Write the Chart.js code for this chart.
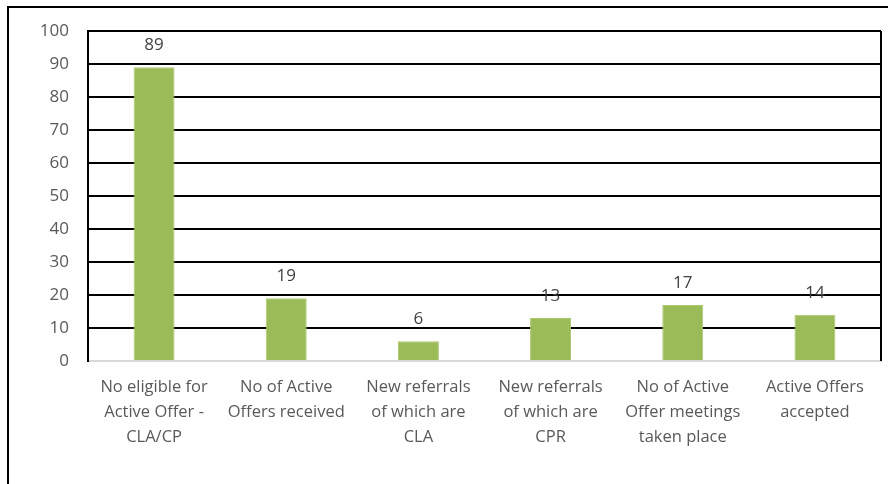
<!DOCTYPE html>
<html>
<head>
<meta charset="utf-8">
<script src="https://cdn.jsdelivr.net/npm/chart.js@4"></script>
<style>
  html, body { margin: 0; padding: 0; background: #fff; overflow: hidden; }
  #wrap { position: relative; width: 888px; height: 484px; }
  #frame { position: absolute; left: 7px; top: 6px; width: 900px; height: 500px; border: 2px solid #000; box-sizing: border-box; pointer-events: none; }
  canvas { position: absolute; left: 0; top: 0; }
</style>
</head>
<body>
<div id="wrap">
  <div id="frame"></div>
  <canvas id="c" width="888" height="484"></canvas>
</div>
<script>
const categories = [
  ["No eligible for", "Active Offer -", "CLA/CP"],
  ["No of Active", "Offers received"],
  ["New referrals", "of which are", "CLA"],
  ["New referrals", "of which are", "CPR"],
  ["No of Active", "Offer meetings", "taken place"],
  ["Active Offers", "accepted"]
];
const values = [89, 19, 6, 13, 17, 14];
const yTicks = [0, 10, 20, 30, 40, 50, 60, 70, 80, 90, 100];

const FONT = "'Open Sans', 'Liberation Sans', sans-serif";

const dataLabels = {
  id: 'dataLabels',
  afterDatasetsDraw(chart) {
    const ctx = chart.ctx;
    const meta = chart.getDatasetMeta(0);
    ctx.save();
    ctx.font = "17px " + FONT;
    ctx.fillStyle = '#404040';
    ctx.textAlign = 'center';
    ctx.textBaseline = 'middle';
    meta.data.forEach((bar, i) => {
      ctx.fillText(String(values[i]), bar.x, bar.y - 22);
    });
    ctx.restore();
  }
};

const plotFrame = {
  id: 'plotFrame',
  beforeDatasetsDraw(chart) {
    const a = chart.chartArea;
    const ctx = chart.ctx;
    ctx.save();
    ctx.strokeStyle = '#000';
    ctx.lineWidth = 2;
    ctx.beginPath();
    ctx.moveTo(a.right, a.top);
    ctx.lineTo(a.right, a.bottom);
    ctx.stroke();
    ctx.restore();
  }
};

new Chart(document.getElementById('c'), {
  type: 'bar',
  data: {
    labels: categories,
    datasets: [{
      data: values,
      backgroundColor: '#9BBB59',
      borderColor: '#A9C76B',
      borderWidth: 1,
      barPercentage: 0.31,
      categoryPercentage: 1.0
    }]
  },
  options: {
    responsive: false,
    animation: false,
    devicePixelRatio: 1,
    layout: { padding: { top: 31, right: 7, left: 0, bottom: 0 } },
    plugins: { legend: { display: false }, tooltip: { enabled: false } },
    scales: {
      x: {
        grid: { display: false, drawTicks: false },
        border: { display: true, color: '#D9D9D9', width: 2 },
        ticks: {
          color: '#595959',
          font: { family: FONT, size: 16.5, lineHeight: 1.5 },
          padding: 14,
          maxRotation: 0,
          autoSkip: false
        },
        afterFit(scale) { scale.height = 123; }
      },
      y: {
        min: 0, max: 100,
        afterBuildTicks(scale) { scale.ticks = yTicks.map(v => ({ value: v })); },
        grid: {
          color: (c) => c.tick && c.tick.value === 0 ? 'rgba(0,0,0,0)' : '#000',
          lineWidth: 2,
          drawTicks: false
        },
        border: { display: true, color: '#000', width: 2 },
        ticks: {
          color: '#595959',
          font: { family: FONT, size: 17 },
          padding: 19
        },
        afterFit(scale) { scale.width = 88; }
      }
    }
  },
  plugins: [dataLabels, plotFrame]
});
</script>
</body>
</html>
